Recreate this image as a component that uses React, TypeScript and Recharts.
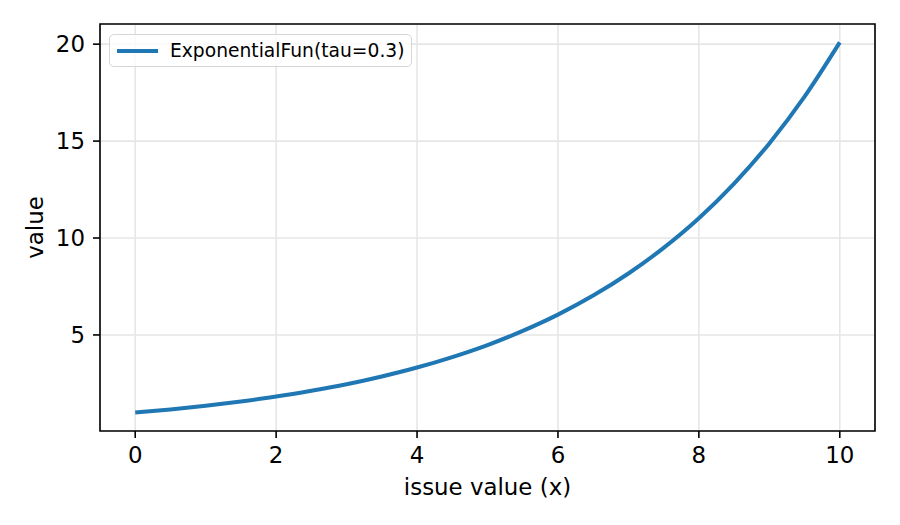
import { LineChart, Line, XAxis, YAxis, CartesianGrid, ReferenceArea, Label } from 'recharts';

// values
const xValues = [0, 0.5, 1, 1.5, 2, 2.5, 3, 3.5, 4, 4.5, 5, 5.5, 6, 6.5, 7, 7.5, 8, 8.5, 9, 9.5, 10];
const yValues = [1.0, 1.16, 1.35, 1.57, 1.82, 2.12, 2.46, 2.86, 3.32, 3.86, 4.48, 5.21, 6.05, 7.03, 8.17, 9.49, 11.02, 12.81, 14.88, 17.29, 20.09];
const xTicks = [0, 2, 4, 6, 8, 10];
const yTicks = [5, 10, 15, 20];
const xDomain: [number, number] = [-0.5, 10.5];
const yDomain: [number, number] = [0.045, 21.04];
const seriesName = 'ExponentialFun(tau=0.3)';
const xLabel = 'issue value (x)';
const yLabel = 'value';

const FONT = '"DejaVu Sans", sans-serif';
const BLUE = '#1f77b4';
const FS = 22.9;

const data = xValues.map((x, i) => ({ x, y: yValues[i] }));

export default function App() {
  return (
    <div style={{ position: 'absolute', left: 0, top: 0, width: 900, height: 525, background: '#fff', fontFamily: FONT }}>
      <LineChart width={900} height={525} data={data} margin={{ top: 24, right: 25, bottom: 0, left: 0 }}>
        <CartesianGrid stroke="#e6e6e6" strokeWidth={1.6} />
        <XAxis
          dataKey="x"
          type="number"
          domain={xDomain}
          ticks={xTicks}
          allowDataOverflow
          height={94}
          axisLine={false}
          tickSize={7}
          tickMargin={9}
          tickLine={{ stroke: '#000', strokeWidth: 1.6 }}
          tick={{ fill: '#000', fontSize: FS, fontFamily: FONT }}
        >
          <Label
            content={({ viewBox }: any) => (
              <text x={viewBox.x + viewBox.width / 2} y={viewBox.y + 64} textAnchor="middle" fontSize={FS} fontFamily={FONT} fill="#000">
                {xLabel}
              </text>
            )}
          />
        </XAxis>
        <YAxis
          type="number"
          domain={yDomain}
          ticks={yTicks}
          allowDataOverflow
          width={100}
          axisLine={false}
          tickSize={7}
          tickMargin={8}
          tickLine={{ stroke: '#000', strokeWidth: 1.6 }}
          tick={{ fill: '#000', fontSize: FS, fontFamily: FONT }}
        >
          <Label
            content={({ viewBox }: any) => {
              const cx = viewBox.x + 43;
              const cy = viewBox.y + viewBox.height / 2;
              return (
                <text x={cx} y={cy} transform={`rotate(-90 ${cx} ${cy})`} textAnchor="middle" fontSize={FS} fontFamily={FONT} fill="#000">
                  {yLabel}
                </text>
              );
            }}
          />
        </YAxis>
        <Line
          type="monotone"
          dataKey="y"
          name={seriesName}
          stroke={BLUE}
          strokeWidth={4}
          dot={false}
          activeDot={false}
          isAnimationActive={false}
        />
        <ReferenceArea
          x1={xDomain[0]}
          x2={xDomain[1]}
          y1={yDomain[0]}
          y2={yDomain[1]}
          fill="none"
          fillOpacity={0}
          stroke="#000"
          strokeWidth={1.6}
          ifOverflow="visible"
        />
      </LineChart>
      <div
        style={{
          position: 'absolute',
          left: 109,
          top: 34,
          width: 303,
          height: 33,
          boxSizing: 'border-box',
          border: '1.6px solid #d6d6d6',
          borderRadius: 5,
          background: 'rgba(255,255,255,0.8)',
          display: 'flex',
          alignItems: 'center',
        }}
      >
        <div style={{ marginLeft: 7, width: 41, height: 4, background: BLUE }} />
        <span style={{ marginLeft: 12, fontSize: 18.7, fontFamily: FONT, color: '#000', whiteSpace: 'nowrap' }}>{seriesName}</span>
      </div>
    </div>
  );
}
